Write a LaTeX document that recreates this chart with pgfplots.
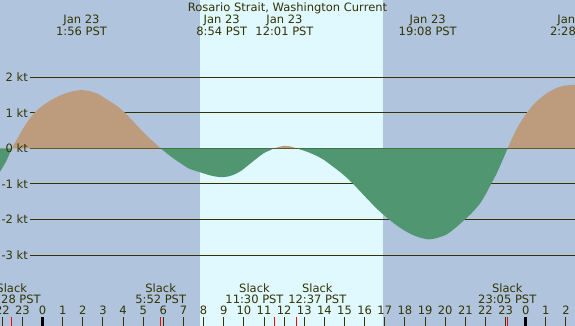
\documentclass[border=0pt]{standalone}
\usepackage{pgfplots}
\pgfplotsset{compat=1.18}
\usepackage{fontspec}
\setmainfont{DejaVu Sans}
\definecolor{bgblue}{RGB}{176,196,222}
\definecolor{daycyan}{RGB}{224,248,255}
\definecolor{floodc}{RGB}{188,156,124}
\definecolor{ebbc}{RGB}{80,150,112}
\definecolor{txt}{RGB}{51,51,0}
\newcommand\tf{\fontsize{11.5}{12}\selectfont}
\tikzset{evt/.style={anchor=base, font=\tf, text=txt, inner sep=0pt}}
\begin{document}
\begin{tikzpicture}
\useasboundingbox (0,0) rectangle (575pt,326pt);
\clip (0,0) rectangle (575pt,326pt);
\begin{axis}[
  at={(0,0)}, anchor=south west,
  width=575pt, height=326pt, scale only axis,
  xmin=-2.116, xmax=26.448, ymin=-4.997, ymax=4.176,
  axis background/.style={fill=bgblue},
  axis line style={draw=none},
  axis on top,
  ytick=\empty,
  xtick={-2,...,26},
  xtick pos=left,
  tick align=inside,
  major tick length=8.8pt,
  minor tick length=8.8pt,
  major tick style={line width=1pt, draw=txt},
  minor xtick={-1.533,5.867,11.5,12.617,23.083},
  minor tick style={line width=1pt, draw=red},
  xticklabel={\pgfmathtruncatemacro\hh{mod(round(\tick)+24,24)}\hh},
  xticklabel style={font=\tf, text=txt, anchor=base, yshift=11pt, inner sep=0pt},
  extra x ticks={0,24},
  extra x tick labels={,},
  extra x tick style={major tick style={line width=3pt, draw=black}},
]
% daylight
\addplot[fill=daycyan, draw=none] coordinates {(7.82,-6) (7.82,5) (16.9,5) (16.9,-6)} -- cycle;
% grid lines
\pgfplotsinvokeforeach{-3,...,2}{
  \draw[txt, line width=1pt] (axis cs:-0.63,#1) -- (axis cs:26.5,#1);
}
% ebb segments
\addplot[fill=ebbc, draw=none, smooth] coordinates {
 (-2.2,-0.73) (-2.0,-0.55) (-1.78,-0.33) (-1.533,0)} \closedcycle;
\addplot[fill=ebbc, draw=none, smooth] coordinates {
 (5.867,0) (6.4,-0.24) (6.99,-0.47) (7.32,-0.58) (7.82,-0.67) (8.4,-0.77) (8.95,-0.81)
 (9.4,-0.76) (9.81,-0.65) (10.2,-0.48) (10.64,-0.28) (11.0,-0.13) (11.5,0)} \closedcycle;
\addplot[fill=ebbc, draw=none, smooth] coordinates {
 (12.617,0) (13.12,-0.09) (13.5,-0.18) (13.94,-0.31) (14.28,-0.45) (14.77,-0.66) (15.1,-0.82)
 (15.43,-1.0) (15.93,-1.3) (16.35,-1.55) (16.76,-1.78) (17.17,-1.98) (17.6,-2.17) (18.0,-2.32)
 (18.41,-2.44) (18.8,-2.52) (19.2,-2.56) (19.6,-2.52) (20.07,-2.42) (20.5,-2.24) (20.98,-2.0)
 (21.35,-1.8) (21.73,-1.55) (22.0,-1.3) (22.28,-1.0) (22.56,-0.70) (22.89,-0.28) (23.1,0)} \closedcycle;
% flood segments
\addplot[fill=floodc, draw=none, smooth] coordinates {
 (-1.533,0) (-1.2,0.33) (-0.9,0.62) (-0.6,0.87) (-0.3,1.06) (0,1.2) (0.37,1.34) (0.8,1.47)
 (1.2,1.56) (1.6,1.62) (1.95,1.64) (2.35,1.61) (2.8,1.52) (3.18,1.38) (3.68,1.2) (4.09,1.0)
 (4.5,0.76) (4.84,0.55) (5.25,0.32) (5.67,0.1) (5.867,0)} \closedcycle;
\addplot[fill=floodc, draw=none, smooth] coordinates {
 (11.5,0) (11.8,0.05) (12.05,0.07) (12.35,0.05) (12.617,0)} \closedcycle;
\addplot[fill=floodc, draw=none, smooth] coordinates {
 (23.1,0) (23.55,0.55) (24.05,1.0) (24.5,1.3) (25.04,1.55) (25.45,1.68) (25.87,1.76)
 (26.47,1.79) (26.7,1.78)} \closedcycle;
% y labels
\pgfplotsinvokeforeach{-3,...,2}{
  \node[anchor=east, font=\tf, text=txt, inner sep=0pt] at (axis cs:-0.725,#1) {#1 kt};
}
% title
\node[evt] at (axis cs:12.166,3.866) {Rosario Strait, Washington Current};
% max current labels
\node[evt] at (axis cs:1.933,3.501) {Jan 23};  \node[evt] at (axis cs:1.933,3.171) {1:56 PST};
\node[evt] at (axis cs:8.9,3.501) {Jan 23};    \node[evt] at (axis cs:8.9,3.171) {8:54 PST};
\node[evt] at (axis cs:12.017,3.501) {Jan 23}; \node[evt] at (axis cs:12.017,3.171) {12:01 PST};
\node[evt] at (axis cs:19.133,3.501) {Jan 23}; \node[evt] at (axis cs:19.133,3.171) {19:08 PST};
\node[evt] at (axis cs:26.467,3.501) {Jan 23}; \node[evt] at (axis cs:26.467,3.171) {2:28 PST};
% slack labels
\node[evt] at (axis cs:-1.533,-4.049) {Slack}; \node[evt] at (axis cs:-1.533,-4.378) {22:28 PST};
\node[evt] at (axis cs:5.867,-4.049) {Slack};  \node[evt] at (axis cs:5.867,-4.378) {5:52 PST};
\node[evt] at (axis cs:10.527,-4.049) {Slack};  \node[evt] at (axis cs:10.527,-4.378) {11:30 PST};
\node[evt] at (axis cs:13.646,-4.049) {Slack}; \node[evt] at (axis cs:13.646,-4.378) {12:37 PST};
\node[evt] at (axis cs:23.083,-4.049) {Slack}; \node[evt] at (axis cs:23.083,-4.378) {23:05 PST};
\end{axis}
\end{tikzpicture}
\end{document}
